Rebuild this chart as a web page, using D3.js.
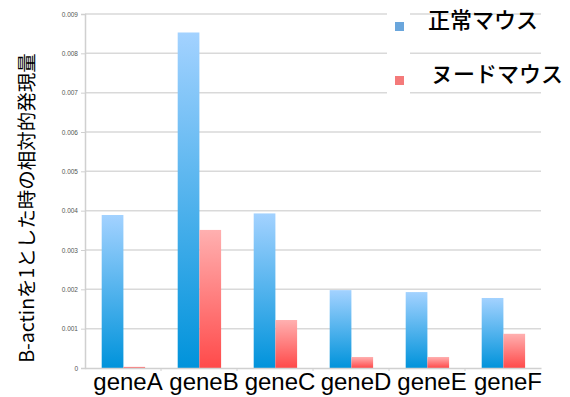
<!DOCTYPE html>
<html>
<head>
<meta charset="utf-8">
<script src="https://cdn.jsdelivr.net/npm/d3@7"></script>
<style>
  body { margin: 0; background: #fff; }
  svg { display: block; }
</style>
</head>
<body>
<script>
var genes = ["geneA", "geneB", "geneC", "geneD", "geneE", "geneF"];
var normalMouse = [0.00389, 0.00853, 0.00393, 0.00198, 0.00193, 0.00178];
var nudeMouse = [0.00003, 0.00351, 0.00122, 0.00028, 0.00028, 0.00087];
var seriesNames = ["正常マウス", "ヌードマウス"];
var yTicks = [0, 0.001, 0.002, 0.003, 0.004, 0.005, 0.006, 0.007, 0.008, 0.009];

var w = 570, h = 397;
var padLeft = 85, padRight = 541, padTop = 14, padBottom = 368;

var svg = d3.select("body").append("svg")
    .attr("width", w)
    .attr("height", h);

var defs = svg.append("defs");
function grad(id, c1, c2) {
    var g = defs.append("linearGradient").attr("id", id)
        .attr("x1", 0).attr("y1", 0).attr("x2", 0).attr("y2", 1);
    g.append("stop").attr("offset", "0%").attr("stop-color", c1);
    g.append("stop").attr("offset", "100%").attr("stop-color", c2);
}
grad("gBlue", "#a3d2ff", "#0093db");
grad("gRed", "#ffb0b0", "#ff4a4a");

var x = d3.scaleBand().domain(genes).range([padLeft, padRight]);
var y = d3.scaleLinear().domain([0, 0.009]).range([padBottom, padTop]);

// gridlines
svg.append("g").selectAll("line")
    .data(yTicks.slice(1))
    .enter().append("line")
    .attr("x1", padLeft).attr("x2", padRight)
    .attr("y1", function(d){ return y(d); })
    .attr("y2", function(d){ return y(d); })
    .attr("stroke", "#d9d9d9").attr("stroke-width", 1.5);

// y axis
var yAxis = d3.axisLeft(y).tickValues(yTicks).tickSize(4).tickPadding(3)
    .tickFormat(function(d){ return d === 0 ? "0" : d3.format(".3f")(d); });
var ya = svg.append("g").attr("transform", "translate(" + padLeft + ",0)").call(yAxis);
ya.select(".domain").attr("stroke", "#d0d0d0").attr("stroke-width", 1.5);
ya.selectAll(".tick line").attr("stroke", "#d0d0d0");
ya.selectAll("text").attr("font-family", "Liberation Sans, Arial, sans-serif")
    .attr("font-size", 6.5).attr("fill", "#555");

// bars
var groups = svg.append("g").selectAll("g")
    .data(genes)
    .enter().append("g")
    .attr("transform", function(d){ return "translate(" + x(d) + ",0)"; });

var barX = d3.scaleBand().domain([0, 1]).range([16.7, 16.7 + 43.4]);

groups.append("rect")
    .attr("x", barX(0))
    .attr("width", barX.bandwidth())
    .attr("y", function(d, i){ return y(normalMouse[i]); })
    .attr("height", function(d, i){ return padBottom - y(normalMouse[i]); })
    .attr("fill", "url(#gBlue)");

groups.append("rect")
    .attr("x", barX(1))
    .attr("width", barX.bandwidth())
    .attr("y", function(d, i){ return y(nudeMouse[i]); })
    .attr("height", function(d, i){ return padBottom - y(nudeMouse[i]); })
    .attr("fill", "url(#gRed)");

// x axis
var xAxis = d3.axisBottom(x).tickSize(0).tickFormat("");
var xa = svg.append("g").attr("transform", "translate(0," + padBottom + ")").call(xAxis);
xa.select(".domain").attr("stroke", "#d0d0d0").attr("stroke-width", 1.5);
svg.append("g").selectAll("line")
    .data(genes.slice(1))
    .enter().append("line")
    .attr("x1", function(d){ return x(d); })
    .attr("x2", function(d){ return x(d); })
    .attr("y1", padBottom).attr("y2", padBottom + 3)
    .attr("stroke", "#d0d0d0");

svg.append("g").selectAll("text")
    .data(genes)
    .enter().append("text")
    .attr("x", function(d){ return x(d) + x.bandwidth() / 2 + 5; })
    .attr("y", 390)
    .attr("text-anchor", "middle")
    .attr("font-family", "Liberation Sans, Arial, sans-serif")
    .attr("font-size", 24)
    .attr("fill", "#000")
    .text(function(d){ return d; });

// y title
svg.append("text")
    .attr("transform", "translate(34,208) rotate(-90)")
    .attr("text-anchor", "middle")
    .attr("font-family", "Noto Sans CJK JP, sans-serif")
    .attr("font-size", 19.5)
    .attr("fill", "#000")
    .text("B-actinを1とした時の相対的発現量");

// legend
svg.append("rect").attr("x", 387).attr("y", 5).attr("width", 23).attr("height", 95).attr("fill", "#fff");
var legend = svg.append("g").selectAll("g")
    .data(seriesNames)
    .enter().append("g")
    .attr("transform", function(d, i){ return "translate(395," + (22 + i * 54) + ")"; });
legend.append("rect")
    .attr("width", 9).attr("height", 9)
    .attr("fill", function(d, i){ return i === 0 ? "#6aa6dc" : "#f47a7a"; });
legend.append("text")
    .attr("x", function(d, i){ return i === 0 ? 33 : 36; })
    .attr("y", 6)
    .attr("font-family", "Noto Sans CJK JP, sans-serif")
    .attr("font-size", 22)
    .attr("font-weight", 500)
    .attr("fill", "#000")
    .text(function(d){ return d; });
</script>
</body>
</html>
